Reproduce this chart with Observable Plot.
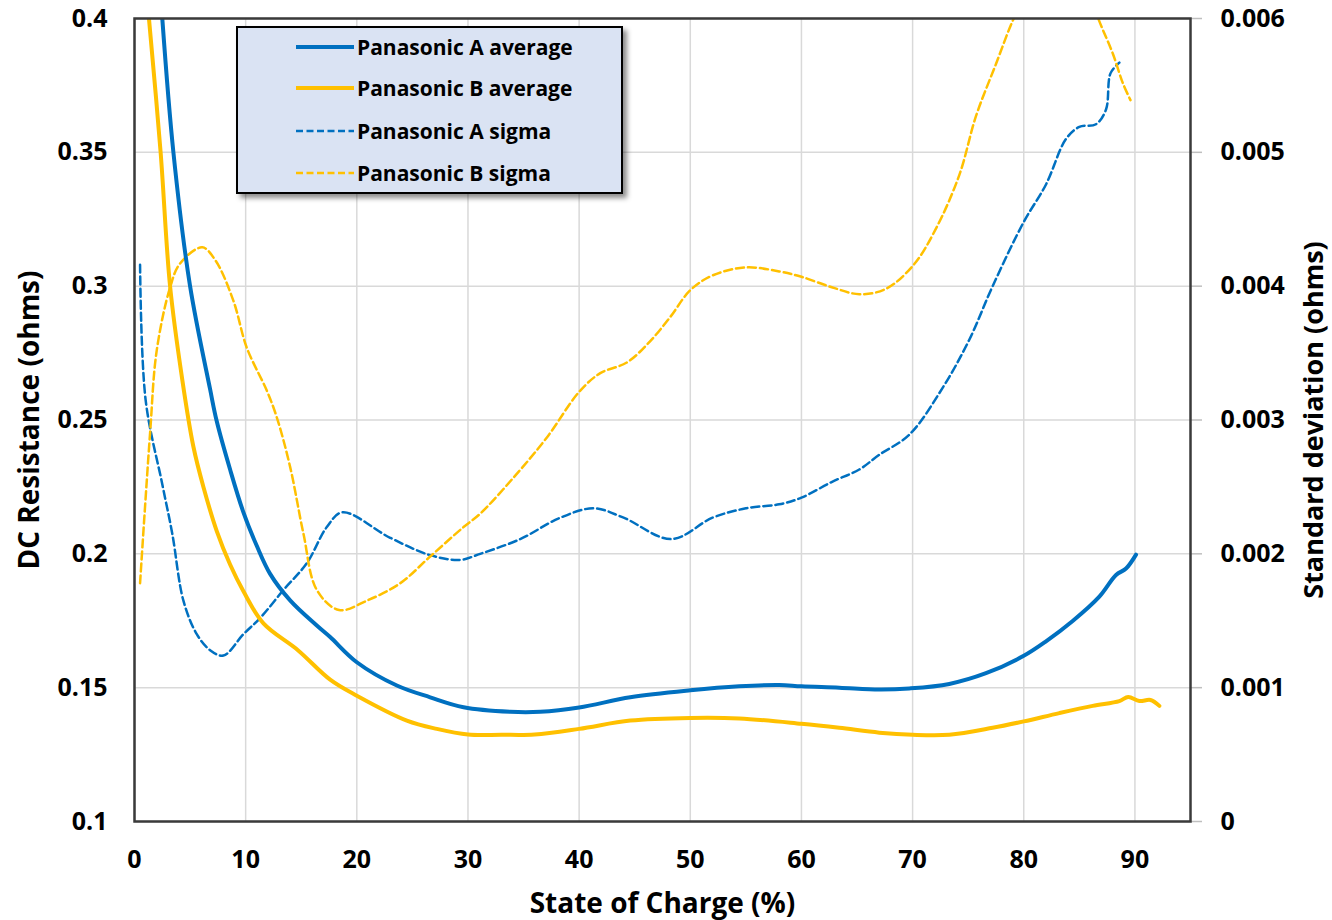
<!DOCTYPE html>
<html>
<head>
<meta charset="utf-8">
<script src="https://cdn.jsdelivr.net/npm/d3@7"></script>
<script src="https://cdn.jsdelivr.net/npm/@observablehq/plot@0.6"></script>
<style>
  html, body { margin: 0; padding: 0; background: #fff; }
  #wrap { position: relative; width: 1332px; height: 920px; font-family: "Open Sans", Lato, sans-serif; color: #000; }
  #legend {
    position: absolute; left: 236px; top: 26px; width: 387px; height: 168px; box-sizing: border-box;
    background: #dae3f3; border: 2px solid #000; box-shadow: 4px 4px 5px rgba(0,0,0,0.45);
  }
  .row { position: absolute; left: 0; height: 30px; }
  .row svg { position: absolute; left: 58px; top: 0; }
  .row span { position: absolute; left: 119px; top: 0; white-space: nowrap; font-weight: bold; font-size: 21px; line-height: 30px; }
</style>
</head>
<body>
<div id="wrap"><div id="legend"></div></div>
<script>
// ---- Data ----
const xTicks = [0, 10, 20, 30, 40, 50, 60, 70, 80, 90];
const resTicks = [0.1, 0.15, 0.2, 0.25, 0.3, 0.35, 0.4];
const sigmaTicks = [0, 0.001, 0.002, 0.003, 0.004, 0.005, 0.006];

const socAavg = [2.5, 3.5, 5.0, 6.8, 7.4, 8.6, 9.8, 11, 12.2, 14, 16.4, 17.6, 20, 23.6, 26.6, 29.6, 33.8, 36.5, 40, 44.6, 50, 54.4, 58, 60, 63.4, 67, 69.7, 73.3, 76.6, 80, 82, 84.4, 86.8, 88.3, 89.2, 90.1];
const resAavg = [0.400, 0.350, 0.300, 0.2615, 0.2495, 0.2315, 0.2155, 0.203, 0.1925, 0.1826, 0.1732, 0.1689, 0.1595, 0.1508, 0.1464, 0.1427, 0.141, 0.141, 0.1426, 0.1464, 0.149, 0.1505, 0.151, 0.1505, 0.150, 0.1493, 0.1497, 0.1514, 0.1554, 0.1619, 0.1673, 0.1749, 0.184, 0.1921, 0.1945, 0.1997];

const socBavg = [1.3, 2.35, 3.2, 4.3, 5.3, 6.2, 7.4, 8.6, 9.8, 11.6, 14.7, 17.6, 20, 24.5, 27.2, 30, 33, 36, 40, 44.6, 50, 54.4, 60, 63.4, 67, 70, 73.3, 77.2, 80, 83.2, 86.2, 88.6, 89.4, 90.4, 91.4, 92.2];
const resBavg = [0.400, 0.350, 0.300, 0.265, 0.240, 0.225, 0.2085, 0.196, 0.186, 0.174, 0.164, 0.153, 0.147, 0.1377, 0.1346, 0.1325, 0.1324, 0.1325, 0.1346, 0.1377, 0.1387, 0.1385, 0.1365, 0.135, 0.1332, 0.1324, 0.1324, 0.135, 0.1374, 0.1405, 0.1432, 0.145, 0.1465, 0.145, 0.1454, 0.1432];

const socAsig = [0.5, 1.0, 2.5, 3.4, 4.4, 5.6, 6.8, 8.0, 9.8, 11.3, 13.4, 15.5, 17.3, 18.7, 23, 26.6, 29.3, 31.1, 34.7, 38.3, 41.3, 44, 48.3, 52, 55, 58, 60, 62.8, 65.2, 67, 69.7, 72.7, 75.1, 77.2, 80, 82, 83.8, 85, 86.5, 87.4, 87.8, 88.6];
const sigAsig = [0.00416, 0.00315, 0.00252, 0.00215, 0.00165, 0.00140, 0.00128, 0.00124, 0.00140, 0.00152, 0.00173, 0.00193, 0.00220, 0.00231, 0.00212, 0.00199, 0.001955, 0.0020, 0.00211, 0.00227, 0.00234, 0.00227, 0.00211, 0.00227, 0.00234, 0.00237, 0.00242, 0.00254, 0.00263, 0.00274, 0.00289, 0.00324, 0.0036, 0.0040, 0.00448, 0.00476, 0.0051, 0.00519, 0.00521, 0.00532, 0.00559, 0.00567];

const socBsig = [0.5, 1.4, 2.0, 3.2, 4.1, 6.1, 7.3, 8.9, 10.1, 11.9, 12.8, 14, 15.2, 16.4, 18.4, 20.9, 23.9, 26.6, 29.6, 31.1, 34.1, 37.1, 40, 41.9, 44.3, 46.4, 48.2, 50, 52, 55, 58, 60, 62.8, 65.2, 67.6, 70.1, 72.1, 74.2, 75.7, 77.5, 79.1, 81, 83, 85, 86.7, 88, 88.9, 89.6];
const sigBsig = [0.00178, 0.0029, 0.00352, 0.00399, 0.00417, 0.00429, 0.00419, 0.00389, 0.00354, 0.00322, 0.00302, 0.00265, 0.00215, 0.00173, 0.00158, 0.00165, 0.00178, 0.00198, 0.0022, 0.0023, 0.00257, 0.00287, 0.00321, 0.00335, 0.00343, 0.00359, 0.00377, 0.00397, 0.00408, 0.00414, 0.00411, 0.00407, 0.00399, 0.00394, 0.00398, 0.00416, 0.00443, 0.00483, 0.00527, 0.00566, 0.0060, 0.0063, 0.0065, 0.0064, 0.0060, 0.00574, 0.00552, 0.00539];

const series = [
  {name: "Panasonic A average", color: "#0070C0", dashed: false},
  {name: "Panasonic B average", color: "#FFC000", dashed: false},
  {name: "Panasonic A sigma", color: "#0070C0", dashed: true},
  {name: "Panasonic B sigma", color: "#FFC000", dashed: true}
];

// right axis (sigma, 0..0.006) mapped onto left axis units (0.1..0.4)
const sigToRes = s => 0.1 + s * 50;
const resToSig = r => Math.round((r - 0.1) * 20) / 1000;

const rows = (soc, vals, f = v => v) => soc.map((x, i) => ({soc: x, v: f(vals[i])}));
const dAavg = rows(socAavg, resAavg);
const dBavg = rows(socBavg, resBavg);
const dAsig = rows(socAsig, sigAsig, sigToRes);
const dBsig = rows(socBsig, sigBsig, sigToRes);

const fontFamily = "'Open Sans', Lato, sans-serif";

const chart = Plot.plot({
  width: 1332,
  height: 920,
  marginLeft: 134,
  marginRight: 142,
  marginTop: 18,
  marginBottom: 99,
  style: {fontFamily, color: "#000", background: "transparent", overflow: "visible"},
  x: {domain: [0, 95]},
  y: {domain: [0.1, 0.4]},
  marks: [
    Plot.gridX(xTicks, {stroke: "#d9d9d9", strokeOpacity: 1, strokeWidth: 1.5}),
    Plot.gridY(resTicks, {stroke: "#d9d9d9", strokeOpacity: 1, strokeWidth: 1.5}),
    Plot.line(dAsig, {x: "soc", y: "v", stroke: series[2].color, strokeWidth: 2.5, strokeDasharray: "8,4", curve: "catmull-rom", clip: true}),
    Plot.line(dBsig, {x: "soc", y: "v", stroke: series[3].color, strokeWidth: 2.5, strokeDasharray: "8,4", curve: "catmull-rom", clip: true}),
    Plot.line(dBavg, {x: "soc", y: "v", stroke: series[1].color, strokeWidth: 4, curve: "catmull-rom", clip: true}),
    Plot.line(dAavg, {x: "soc", y: "v", stroke: series[0].color, strokeWidth: 4, curve: "catmull-rom", clip: true}),
    Plot.axisX({ticks: xTicks, tickSize: 0, tickPadding: 29, fontSize: 25, fontWeight: "bold", label: null, tickFormat: d => String(d)}),
    Plot.axisY({anchor: "left", ticks: resTicks, tickSize: 0, tickPadding: 27, fontSize: 25, fontWeight: "bold", label: null, tickFormat: d => String(+d.toFixed(2))}),
    Plot.axisY({anchor: "right", ticks: sigmaTicks.map(sigToRes), tickSize: 11, tickPadding: 19, stroke: "#bfbfbf", strokeWidth: 1.5, fontSize: 25, fontWeight: "bold", label: null, tickFormat: d => String(resToSig(d))}),
    Plot.frame({stroke: "#3a3a3a", strokeWidth: 2.5}),
    Plot.text(["State of Charge (%)"], {frameAnchor: "bottom", textAnchor: "middle", lineAnchor: "middle", dy: 83, text: d => d, fontSize: 28, fontWeight: "bold"}),
    Plot.text(["DC Resistance (ohms)"], {frameAnchor: "left", textAnchor: "middle", lineAnchor: "middle", dx: -104, rotate: -90, text: d => d, fontSize: 28, fontWeight: "bold"}),
    Plot.text(["Standard deviation (ohms)"], {frameAnchor: "right", textAnchor: "middle", lineAnchor: "middle", dx: 124, rotate: -90, text: d => d, fontSize: 27, fontWeight: "bold"})
  ]
});
chart.style.position = "absolute";
chart.style.left = "0px";
chart.style.top = "0px";
const wrap = document.getElementById("wrap");
wrap.insertBefore(chart, wrap.firstChild);

// legend
const legend = document.getElementById("legend");
const rowTops = [4, 45, 88, 130];
series.forEach((s, i) => {
  const row = document.createElement("div");
  row.className = "row";
  row.style.top = rowTops[i] + "px";
  row.style.width = "100%";
  row.innerHTML = `<svg width="58" height="30"><line x1="0" x2="58" y1="15" y2="15" stroke="${s.color}" stroke-width="${s.dashed ? 2.5 : 4}" ${s.dashed ? 'stroke-dasharray="7,3.5"' : ''}/></svg><span>${s.name}</span>`;
  legend.appendChild(row);
});
</script>
</body>
</html>
